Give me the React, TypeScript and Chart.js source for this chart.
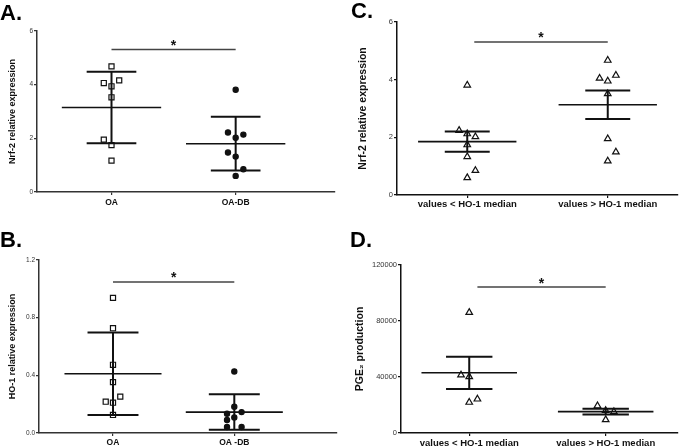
import React, { useEffect, useRef } from "react";
import { Chart, registerables } from "chart.js";
Chart.register(...registerables);

const FONT = "'Liberation Sans', Arial, Helvetica, sans-serif";

// ---------- Panel A: Nrf-2 relative expression (mean ± SD) ----------
const aCategories = ["OA", "OA-DB"];
const aOA = [4.68, 4.06, 4.16, 3.94, 3.53, 1.95, 1.75, 1.17];
const aOAJitter = [0, -1, 1, 0, 0, -1, 0, 0];
const aOADB = [3.81, 2.22, 2.02, 2.14, 1.47, 1.32, 0.85, 0.6];
const aOADBJitter = [0, -1, 0, 1, -1, 0, 1, 0];
const aMeans = [3.15, 1.8];
const aErrors = [1.33, 1.0];
const aSignificance = 5.31;

// ---------- Panel B: HO-1 relative expression (mean ± SD) ----------
const bCategories = ["OA", "OA -DB"];
const bOA = [0.937, 0.727, 0.473, 0.353, 0.252, 0.217, 0.21, 0.125];
const bOAJitter = [0, 0, 0, 0, 1, -1, 0, 0];
const bOADB = [0.427, 0.182, 0.134, 0.145, 0.108, 0.09, 0.042, 0.042];
const bOADBJitter = [0, 0, -1, 1, 0, -1, -1, 1];
const bMeans = [0.411, 0.145];
const bErrors = [0.286, 0.123];
const bSignificance = 1.048;

// ---------- Panel C: Nrf-2 by HO-1 median (mean ± SEM) ----------
const cCategories = ["values < HO-1 median", "values > HO-1 median"];
const cLow = [3.81, 2.24, 2.12, 2.02, 1.74, 1.33, 0.85, 0.6];
const cLowJitter = [0, -1, 0, 1, 0, 0, 1, 0];
const cHigh = [4.67, 4.05, 4.15, 3.95, 3.51, 1.95, 1.49, 1.18];
const cHighJitter = [0, -1, 1, 0, 0, 0, 1, 0];
const cMeans = [1.85, 3.13];
const cErrors = [0.35, 0.49];
const cSignificance = 5.31;

// ---------- Panel D: PGE2 production (mean ± SEM) ----------
const dCategories = ["values < HO-1 median", "values > HO-1 median"];
const dLow = [86100, 41400, 40200, 21900, 24200];
const dLowJitter = [0, -1, 0, 0, 1];
const dHigh = [19400, 16000, 15200, 9500];
const dHighJitter = [-1, 0, 1, 0];
const dMeans = [43000, 15300];
const dErrors = [11500, 2100];
const dSignificance = 104200;

type Group = { values: number[]; jitter: number[]; style: string; radius: number; fill: string };
type PanelCfg = {
  left: number; top: number; width: number; height: number;
  yAxisWidth: number; padTop: number; padRight: number; xAxisHeight: number;
  xMin: number; xMax: number; yMin: number; yMax: number; yStep: number;
  yFormat: (v: number) => string;
  categories: string[]; yTitle: string; titleSize: number; titlePad: number;
  tickSize: number; xLabelSize: number; xLabelPad: number;
  groups: Group[]; jitterStep: number;
  means: number[]; errors: number[]; meanHalf: number; capHalf: number;
  sig: number; sigFrom: number; sigTo: number; axisColor: string;
};

function summaryPlugin(cfg: PanelCfg) {
  return {
    id: "summary",
    afterDatasetsDraw(chart: any) {
      const { ctx } = chart;
      const x = chart.scales.x;
      const y = chart.scales.y;
      const seg = (x1: number, y1: number, x2: number, y2: number) => {
        ctx.beginPath();
        ctx.moveTo(x1, y1);
        ctx.lineTo(x2, y2);
        ctx.stroke();
      };
      ctx.save();
      ctx.strokeStyle = "#111";
      cfg.means.forEach((m, i) => {
        const c = i + 1;
        const px = x.getPixelForValue(c);
        const py = y.getPixelForValue(m);
        const up = y.getPixelForValue(m + cfg.errors[i]);
        const lo = y.getPixelForValue(m - cfg.errors[i]);
        ctx.lineWidth = 1.6;
        seg(x.getPixelForValue(c - cfg.meanHalf), py, x.getPixelForValue(c + cfg.meanHalf), py);
        ctx.lineWidth = 2;
        seg(px, up, px, lo);
        seg(x.getPixelForValue(c - cfg.capHalf), up, x.getPixelForValue(c + cfg.capHalf), up);
        seg(x.getPixelForValue(c - cfg.capHalf), lo, x.getPixelForValue(c + cfg.capHalf), lo);
      });
      const sy = y.getPixelForValue(cfg.sig);
      ctx.strokeStyle = "#444";
      ctx.lineWidth = 1.5;
      seg(x.getPixelForValue(cfg.sigFrom), sy, x.getPixelForValue(cfg.sigTo), sy);
      ctx.fillStyle = "#111";
      ctx.font = `bold 14px ${FONT}`;
      ctx.textAlign = "center";
      ctx.textBaseline = "alphabetic";
      ctx.fillText("*", x.getPixelForValue((cfg.sigFrom + cfg.sigTo) / 2), sy + 0.5);
      ctx.restore();
    },
  };
}

function Panel({ cfg }: { cfg: PanelCfg }) {
  const ref = useRef<HTMLCanvasElement>(null);
  useEffect(() => {
    const canvas = ref.current!;
    const gridOpts = {
      display: true,
      drawOnChartArea: false,
      drawTicks: true,
      tickLength: 3,
      color: cfg.axisColor,
      lineWidth: 1.2,
    };
    const borderOpts = { display: true, color: cfg.axisColor, width: 1.5 };
    const chart = new Chart(canvas, {
      type: "scatter",
      data: {
        datasets: cfg.groups.map((g, gi) => ({
          data: g.values.map((v, i) => ({ x: gi + 1 + g.jitter[i] * cfg.jitterStep, y: v })),
          pointStyle: g.style as any,
          pointRadius: g.radius,
          pointHoverRadius: g.radius,
          pointBackgroundColor: g.fill,
          pointBorderColor: "#111",
          pointBorderWidth: 1.2,
          showLine: false,
        })),
      },
      options: {
        responsive: false,
        animation: false,
        devicePixelRatio: 1,
        events: [],
        layout: { padding: { top: cfg.padTop, right: cfg.padRight, left: 0, bottom: 0 } },
        plugins: { legend: { display: false }, tooltip: { enabled: false } },
        scales: {
          x: {
            type: "linear",
            min: cfg.xMin,
            max: cfg.xMax,
            afterBuildTicks: (ax: any) => {
              ax.ticks = cfg.categories.map((_, i) => ({ value: i + 1 }));
            },
            afterFit: (ax: any) => {
              ax.height = cfg.xAxisHeight;
            },
            ticks: {
              callback: (v: any) => cfg.categories[Number(v) - 1] ?? "",
              font: { family: FONT, size: cfg.xLabelSize, weight: "bold" },
              color: "#111",
              padding: cfg.xLabelPad,
              autoSkip: false,
              maxRotation: 0,
            },
            grid: gridOpts,
            border: borderOpts,
          },
          y: {
            type: "linear",
            min: cfg.yMin,
            max: cfg.yMax,
            afterFit: (ax: any) => {
              ax.width = cfg.yAxisWidth;
            },
            ticks: {
              stepSize: cfg.yStep,
              callback: (v: any) => cfg.yFormat(Number(v)),
              font: { family: FONT, size: cfg.tickSize },
              color: "#333",
              padding: 1,
            },
            grid: gridOpts,
            border: borderOpts,
            title: {
              display: true,
              text: cfg.yTitle,
              font: { family: FONT, size: cfg.titleSize, weight: "bold" },
              color: "#111",
              padding: { top: cfg.titlePad, bottom: 0 },
            },
          },
        },
      } as any,
      plugins: [summaryPlugin(cfg)],
    });
    return () => chart.destroy();
  }, []);
  return (
    <canvas
      ref={ref}
      width={cfg.width}
      height={cfg.height}
      style={{ position: "absolute", left: cfg.left, top: cfg.top, width: cfg.width, height: cfg.height }}
    />
  );
}

const square = (values: number[], jitter: number[]): Group => ({ values, jitter, style: "rect", radius: 3.6, fill: "#fff" });
const dot = (values: number[], jitter: number[]): Group => ({ values, jitter, style: "circle", radius: 2.6, fill: "#111" });
const tri = (values: number[], jitter: number[]): Group => ({ values, jitter, style: "triangle", radius: 3.8, fill: "#fff" });

const panelA: PanelCfg = {
  left: 0, top: 0, width: 341, height: 224,
  yAxisWidth: 37, padTop: 31, padRight: 6, xAxisHeight: 32,
  xMin: 0.4, xMax: 2.8, yMin: 0, yMax: 6, yStep: 2, yFormat: (v) => String(v),
  categories: aCategories, yTitle: "Nrf-2 relative expression", titleSize: 9, titlePad: 7,
  tickSize: 6.5, xLabelSize: 8.5, xLabelPad: 3,
  groups: [square(aOA, aOAJitter), dot(aOADB, aOADBJitter)], jitterStep: 0.062,
  means: aMeans, errors: aErrors, meanHalf: 0.4, capHalf: 0.2,
  sig: aSignificance, sigFrom: 1, sigTo: 2, axisColor: "#333",
};

const panelB: PanelCfg = {
  left: 0, top: 224, width: 341, height: 224,
  yAxisWidth: 39, padTop: 36, padRight: 1, xAxisHeight: 15,
  xMin: 0.39, xMax: 2.84, yMin: 0, yMax: 1.2, yStep: 0.4, yFormat: (v) => v.toFixed(1),
  categories: bCategories, yTitle: "HO-1 relative expression", titleSize: 9, titlePad: 7,
  tickSize: 6.5, xLabelSize: 8.5, xLabelPad: 2,
  groups: [square(bOA, bOAJitter), dot(bOADB, bOADBJitter)], jitterStep: 0.06,
  means: bMeans, errors: bErrors, meanHalf: 0.4, capHalf: 0.21,
  sig: bSignificance, sigFrom: 1, sigTo: 2, axisColor: "#333",
};

const panelC: PanelCfg = {
  left: 341, top: 0, width: 342, height: 224,
  yAxisWidth: 56, padTop: 22, padRight: 0, xAxisHeight: 29,
  xMin: 0.5, xMax: 2.5, yMin: 0, yMax: 6, yStep: 2, yFormat: (v) => String(v),
  categories: cCategories, yTitle: "Nrf-2 relative expression", titleSize: 10.5, titlePad: 15.5,
  tickSize: 7.5, xLabelSize: 9.5, xLabelPad: 1,
  groups: [tri(cLow, cLowJitter), tri(cHigh, cHighJitter)], jitterStep: 0.058,
  means: cMeans, errors: cErrors, meanHalf: 0.35, capHalf: 0.16,
  sig: cSignificance, sigFrom: 1.05, sigTo: 2, axisColor: "#111",
};

const panelD: PanelCfg = {
  left: 341, top: 224, width: 342, height: 224,
  yAxisWidth: 60, padTop: 41, padRight: 1, xAxisHeight: 15,
  xMin: 0.5, xMax: 2.53, yMin: 0, yMax: 120000, yStep: 40000, yFormat: (v) => String(v),
  categories: dCategories, yTitle: "PGE\u2082 production", titleSize: 10.5, titlePad: 12.5,
  tickSize: 7.5, xLabelSize: 9.5, xLabelPad: 2,
  groups: [tri(dLow, dLowJitter), tri(dHigh, dHighJitter)], jitterStep: 0.06,
  means: dMeans, errors: dErrors, meanHalf: 0.35, capHalf: 0.17,
  sig: dSignificance, sigFrom: 1.06, sigTo: 2, axisColor: "#111",
};

const letterStyle = (left: number, top: number): React.CSSProperties => ({
  position: "absolute",
  left,
  top,
  font: `bold 22px ${FONT}`,
  lineHeight: "22px",
  color: "#000",
});

export default function App() {
  return (
    <div style={{ position: "fixed", left: 0, top: 0, width: 683, height: 448, background: "#fff", overflow: "hidden" }}>
      <Panel cfg={panelA} />
      <Panel cfg={panelB} />
      <Panel cfg={panelC} />
      <Panel cfg={panelD} />
      <div style={letterStyle(0, 2)}>A.</div>
      <div style={letterStyle(0, 229)}>B.</div>
      <div style={letterStyle(351, 0)}>C.</div>
      <div style={letterStyle(350, 229)}>D.</div>
    </div>
  );
}
